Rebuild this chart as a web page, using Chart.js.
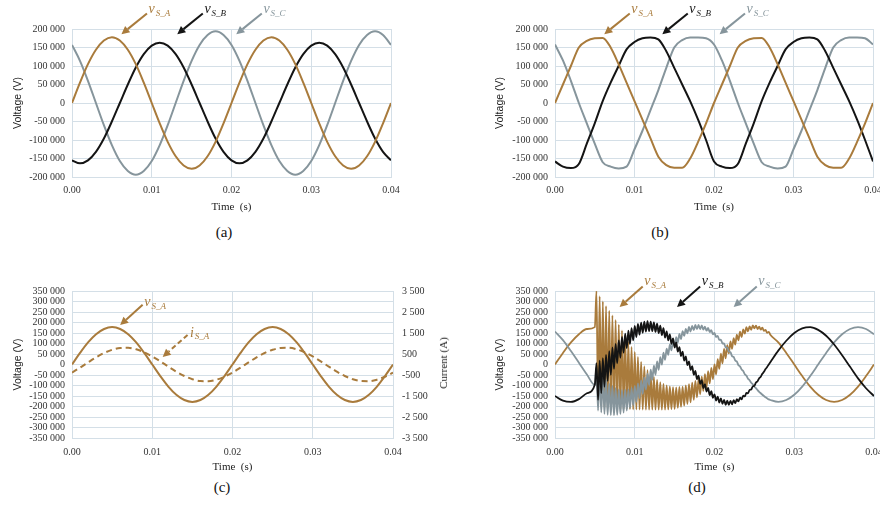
<!DOCTYPE html>
<html>
<head>
<meta charset="utf-8">
<script src="https://cdn.jsdelivr.net/npm/chart.js@4.4.1/dist/chart.umd.min.js"></script>
<style>
  body { margin: 0; width: 880px; height: 515px; overflow: hidden; background: #fff; position: relative; }
  canvas { position: absolute; }
  .cap { position: absolute; font-family: "Liberation Serif", serif; font-size: 15px; color: #111; transform: translate(-50%, -50%); }
  .rtitle { position: absolute; font-family: "Liberation Serif", serif; font-size: 11px; color: #222;
            transform: translate(-50%, -50%) rotate(-90deg); white-space: nowrap; }
</style>
</head>
<body>
<canvas id="chartA" width="420" height="215" style="left:0;top:0"></canvas>
<canvas id="chartB" width="460" height="215" style="left:440px;top:0"></canvas>
<canvas id="chartC" width="440" height="225" style="left:0;top:250px"></canvas>
<canvas id="chartD" width="460" height="225" style="left:440px;top:250px"></canvas>
<div class="cap" style="left:224px;top:232px">(a)</div>
<div class="cap" style="left:660px;top:232px">(b)</div>
<div class="cap" style="left:222px;top:487px">(c)</div>
<div class="cap" style="left:697px;top:487px">(d)</div>
<div class="rtitle" style="left:443px;top:363px">Current (A)</div>
<script>
// --- DATA (time in ms, voltage in kV, current in A) ---
const tMs = [0,1,2,3,4,5,6,7,8,9,10,11,12,13,14,15,16,17,18,19,20,
  21,22,23,24,25,26,27,28,29,30,31,32,33,34,35,36,37,38,39,40];

// (a) sinusoidal supply
const vsaA = [0,55,105,144,169,178,169,144,105,55,0,-55,-105,-144,-169,-178,-169,-144,-105,-55,
  0,55,105,144,169,178,169,144,105,55,0,-55,-105,-144,-169,-178,-169,-144,-105,-55,0];
const vsbA = [-155,-163,-155,-132,-96,-50,0,50,96,132,155,163,155,132,96,50,0,-50,-96,-132,
  -155,-163,-155,-132,-96,-50,0,50,96,132,155,163,155,132,96,50,0,-50,-96,-132,-155];
const vscA = [157,114,60,0,-60,-114,-157,-184,-194,-184,-157,-114,-60,0,60,114,157,184,194,184,
  157,114,60,0,-60,-114,-157,-184,-194,-184,-157,-114,-60,0,60,114,157,184,194,184,157];

// (b) distorted supply
const vsaB = [0,50,100,150,168,175,176,150,105,55,5,-45,-95,-145,-168,-175,-175,-150,-105,-55,
  0,50,100,150,168,175,176,150,105,55,5,-45,-95,-145,-168,-175,-175,-150,-105,-55,0];
const vsbB = [-158,-172,-176,-165,-110,-55,5,55,100,145,165,175,177,172,140,95,50,5,-45,-100,
  -158,-172,-176,-165,-110,-55,5,55,100,145,165,175,177,172,140,95,50,5,-45,-100,-158];
const vscB = [158,115,60,0,-55,-110,-160,-172,-177,-172,-125,-75,-20,35,95,150,170,177,177,175,
  158,115,60,0,-55,-110,-160,-172,-177,-172,-125,-75,-20,35,95,150,170,177,177,175,158];

// (c) phase A voltage and current
const vsaC = [0,55,105,144,169,178,169,144,105,55,0,-55,-105,-144,-169,-178,-169,-144,-105,-55,
  0,55,105,144,169,178,169,144,105,55,0,-55,-105,-144,-169,-178,-169,-144,-105,-55,0];
const isaC = [-385,-150,100,341,548,701,786,794,724,583,385,150,-100,-341,-548,-701,-786,-794,-724,-583,
  -385,-150,100,341,548,701,786,794,724,583,385,150,-100,-341,-548,-701,-786,-794,-724,-583,-385];

// (d) switching transient
const tD = [0,1,2,3,4,5,
  5.2,5.4,5.6,5.8,6,6.2,6.4,6.6,6.8,7,
  7.2,7.4,7.6,7.8,8,8.2,8.4,8.6,8.8,9,
  9.2,9.4,9.6,9.8,10,10.2,10.4,10.6,10.8,11,
  11.2,11.4,11.6,11.8,12,12.2,12.4,12.6,12.8,13,
  13.2,13.4,13.6,13.8,14,14.2,14.4,14.6,14.8,15,
  15.2,15.4,15.6,15.8,16,16.2,16.4,16.6,16.8,17,
  17.2,17.4,17.6,17.8,18,18.2,18.4,18.6,18.8,19,
  19.2,19.4,19.6,19.8,20,20.2,20.4,20.6,20.8,21,
  21.2,21.4,21.6,21.8,22,22.2,22.4,22.6,22.8,23,
  23.2,23.4,23.6,23.8,24,24.2,24.4,24.6,24.8,25,
  25.2,25.4,25.6,25.8,26,26.2,26.4,26.6,26.8,27,
  28,29,30,31,32,33,34,35,36,37,38,39,40];
const vsaD = [0,55,105,144,169,178,
  350,-190,325,-200,300,-206,278,-207,256,-210,
  234,-211,212,-212,190,-212,162,-213,134,-213,
  108,-213,84,-214,60,-214,36,-215,12,-215,
  -9,-215,-27,-215,-45,-215,-59,-215,-73,-215,
  -84,-215,-92,-215,-100,-214,-104,-213,-108,-212,
  -109,-207,-107,-202,-105,-196,-99,-188,-93,-180,
  -86,-168,-78,-156,-70,-142,-58,-126,-46,-110,
  -32,-90,-16,-70,0,-47,26,-21,52,5,
  74,29,92,53,110,75,126,95,142,115,
  156,131,167,147,178,158,182,165,186,172,
  185,169,180,166,175,160,165,151,155,142,
  105,55,0,-55,-105,-144,-169,-178,-169,-144,-105,-55,0];
const vsbD = [-150,-172,-178,-165,-137,-95,
  7,-168,18,-136,30,-106,46,-78,63,-49,
  81,-21,98,6,115,32,132,56,147,78,
  161,98,173,115,184,131,193,142,199,151,
  204,157,206,159,204,159,200,155,194,149,
  185,140,173,128,158,115,143,98,124,81,
  105,61,83,40,61,18,39,-3,15,-26,
  -8,-49,-31,-70,-53,-92,-74,-112,-94,-129,
  -112,-146,-127,-159,-142,-172,-153,-181,-162,-187,
  -168,-192,-172,-192,-173,-190,-170,-184,-165,-176,
  -158,-166,-148,-152,-135,-137,-121,-119,-104,-101,
  -86,-80,-65,-58,-44,-35,-22,-12,0,11,
  66,113,150,172,178,165,137,95,44,-11,-66,-113,-150];
const vscD = [157,116,64,8,-48,-98,
  -13,-219,-36,-228,-56,-235,-74,-239,-91,-241,
  -102,-242,-112,-240,-118,-236,-121,-229,-120,-219,
  -118,-208,-111,-194,-102,-178,-90,-160,-76,-140,
  -61,-119,-44,-97,-25,-73,-5,-49,15,-25,
  35,-1,56,22,76,46,96,67,114,87,
  130,105,146,121,159,136,170,148,179,157,
  184,164,188,168,188,168,186,166,180,161,
  174,154,163,144,150,131,136,117,118,100,
  100,81,80,62,59,40,36,19,14,-3,
  -9,-24,-31,-46,-53,-68,-75,-87,-94,-106,
  -113,-122,-130,-137,-144,-150,-156,-161,-166,-169,
  -178,-169,-144,-105,-55,0,55,105,144,169,178,169,144];

// --- STYLE ---
const BROWN = '#a97b3c';
const BLACK = '#141414';
const GREY = '#86959c';
const GRID = '#d4dfe7';
const TICK_FONT = { family: 'Liberation Serif', size: 10 };

function fmtThousands(v) {
  const s = String(Math.abs(Math.round(v))).replace(/\B(?=(\d{3})+(?!\d))/g, ' ');
  return (v < 0 ? '-' : '') + s;
}

function pts(times, vals, k) {
  return times.map((t, i) => ({ x: t / 1000, y: vals[i] * k }));
}

function line(label, times, vals, color, extra) {
  return Object.assign({
    label, data: pts(times, vals, 1000), borderColor: color, borderWidth: 2,
    pointRadius: 0, cubicInterpolationMode: 'monotone', fill: false
  }, extra || {});
}

function xScale(h, pad) {
  return {
    type: 'linear', min: 0, max: 0.04,
    grid: { color: GRID, drawTicks: false },
    border: { color: GRID },
    ticks: { stepSize: 0.01, autoSkip: false, maxRotation: 0, padding: pad, font: TICK_FONT, color: '#333',
      callback: v => v.toFixed(2) },
    title: { display: true, text: 'Time  (s)', color: '#222', font: { family: 'Liberation Serif', size: 11 },
      padding: { top: 0, bottom: 1 } },
    afterFit: s => { s.height = h; }
  };
}

function voltScale(lim, w) {
  return {
    min: -lim, max: lim,
    grid: { color: GRID, drawTicks: false },
    border: { color: GRID },
    ticks: { stepSize: 50000, maxTicksLimit: 20, autoSkip: false, padding: 7, font: TICK_FONT, color: '#333',
      callback: v => fmtThousands(v) },
    title: { display: true, text: 'Voltage (V)', color: '#222', font: { family: 'Liberation Sans', size: 10.5 },
      padding: { top: 11.7, bottom: 0 } },
    afterFit: s => { s.width = w; }
  };
}

// --- ANNOTATIONS (arrows + subscripted labels, in data units) ---
const notesPlugin = {
  id: 'notes',
  afterDraw(chart, args, opts) {
    const { ctx, scales: { x, y } } = chart;
    ctx.save();
    (opts.arrows || []).forEach(a => {
      const x0 = x.getPixelForValue(a.from[0]), y0 = y.getPixelForValue(a.from[1]);
      const x1 = x.getPixelForValue(a.to[0]), y1 = y.getPixelForValue(a.to[1]);
      const ang = Math.atan2(y1 - y0, x1 - x0);
      const hx = x1 - 8 * Math.cos(ang), hy = y1 - 8 * Math.sin(ang);
      ctx.strokeStyle = a.color; ctx.fillStyle = a.color; ctx.lineWidth = 2;
      ctx.setLineDash(a.dash || []);
      ctx.beginPath(); ctx.moveTo(x0, y0); ctx.lineTo(hx, hy); ctx.stroke();
      ctx.setLineDash([]);
      ctx.beginPath();
      ctx.moveTo(x1, y1);
      ctx.lineTo(hx + 4 * Math.sin(ang), hy - 4 * Math.cos(ang));
      ctx.lineTo(hx - 4 * Math.sin(ang), hy + 4 * Math.cos(ang));
      ctx.closePath(); ctx.fill();
    });
    (opts.labels || []).forEach(l => {
      const px = x.getPixelForValue(l.at[0]), py = y.getPixelForValue(l.at[1]);
      ctx.fillStyle = l.color; ctx.textBaseline = 'middle'; ctx.textAlign = 'left';
      ctx.font = 'italic 14px "Liberation Serif"';
      ctx.fillText(l.main, px, py);
      const w = ctx.measureText(l.main).width;
      ctx.font = 'italic 9px "Liberation Serif"';
      ctx.fillText(l.sub, px + w + 1, py + 4);
    });
    ctx.restore();
  }
};

function threePhaseNotes(tx, vTail, vHead, vLbl, dt) {
  // tx: tail times of the A, B, C arrows
  const cols = [BROWN, BLACK, GREY], subs = ['S_A', 'S_B', 'S_C'];
  return {
    arrows: tx.map((t, i) => ({ from: [t, vTail], to: [t - dt, vHead], color: cols[i] })),
    labels: tx.map((t, i) => ({ at: [t + 0.0002, vLbl], main: 'v', sub: subs[i], color: cols[i] }))
  };
}

function baseOptions(pad, scales, notes) {
  return {
    responsive: false, animation: false,
    layout: { padding: pad },
    plugins: { legend: { display: false }, tooltip: { enabled: false }, notes },
    scales
  };
}

// --- (a) ---
new Chart(document.getElementById('chartA'), {
  type: 'line',
  data: { datasets: [
    line('vS_A', tMs, vsaA, BROWN),
    line('vS_B', tMs, vsbA, BLACK),
    line('vS_C', tMs, vscA, GREY)
  ] },
  options: baseOptions({ top: 29, right: 29, left: 0, bottom: 0 },
    { x: xScale(38, 7), y: voltScale(200000, 72) },
    threePhaseNotes([0.0094, 0.0164, 0.0238], 242000, 186000, 252000, 0.0032)),
  plugins: [notesPlugin]
});

// --- (b) ---
new Chart(document.getElementById('chartB'), {
  type: 'line',
  data: { datasets: [
    line('vS_A', tMs, vsaB, BROWN),
    line('vS_B', tMs, vsbB, BLACK),
    line('vS_C', tMs, vscB, GREY)
  ] },
  options: baseOptions({ top: 29, right: 27, left: 42, bottom: 0 },
    { x: xScale(38, 7), y: voltScale(200000, 73) },
    threePhaseNotes([0.0094, 0.0167, 0.0239], 242000, 186000, 252000, 0.0032)),
  plugins: [notesPlugin]
});

// --- (c) ---
new Chart(document.getElementById('chartC'), {
  type: 'line',
  data: { datasets: [
    line('vS_A', tMs, vsaC, BROWN),
    Object.assign(line('iS_A', tMs, isaC, BROWN, { yAxisID: 'y2', borderDash: [6, 4] }),
      { data: pts(tMs, isaC, 1) })
  ] },
  options: baseOptions({ top: 41, right: 0, left: 0, bottom: 0 },
    {
      x: xScale(37, 8),
      y: voltScale(350000, 72),
      y2: {
        position: 'right', min: -3500, max: 3500,
        grid: { drawOnChartArea: false, drawTicks: false },
        border: { color: GRID },
        ticks: { stepSize: 1000, autoSkip: false, padding: 9, font: TICK_FONT, color: '#333',
          callback: v => fmtThousands(v) },
        afterFit: s => { s.width = 47; }
      }
    },
    {
      arrows: [
        { from: [0.0088, 284000], to: [0.0060, 188000], color: BROWN },
        { from: [0.0144, 141000], to: [0.0113, 36000], color: BROWN, dash: [5, 3] }
      ],
      labels: [
        { at: [0.0090, 296000], main: 'v', sub: 'S_A', color: BROWN },
        { at: [0.0147, 150000], main: 'i', sub: 'S_A', color: BROWN }
      ]
    }),
  plugins: [notesPlugin]
});

// --- (d) ---
new Chart(document.getElementById('chartD'), {
  type: 'line',
  data: { datasets: [
    line('vS_B', tD, vsbD, BLACK, { borderWidth: 1.8, order: 1 }),
    line('vS_C', tD, vscD, GREY, { borderWidth: 1.8, order: 2 }),
    line('vS_A', tD, vsaD, BROWN, { borderWidth: 1.8, order: 3 })
  ] },
  options: baseOptions({ top: 41, right: 26, left: 42, bottom: 0 },
    { x: xScale(37, 8), y: voltScale(350000, 73) },
    threePhaseNotes([0.0110, 0.0182, 0.0253], 372000, 274000, 396000, 0.0029)),
  plugins: [notesPlugin]
});
</script>
</body>
</html>
